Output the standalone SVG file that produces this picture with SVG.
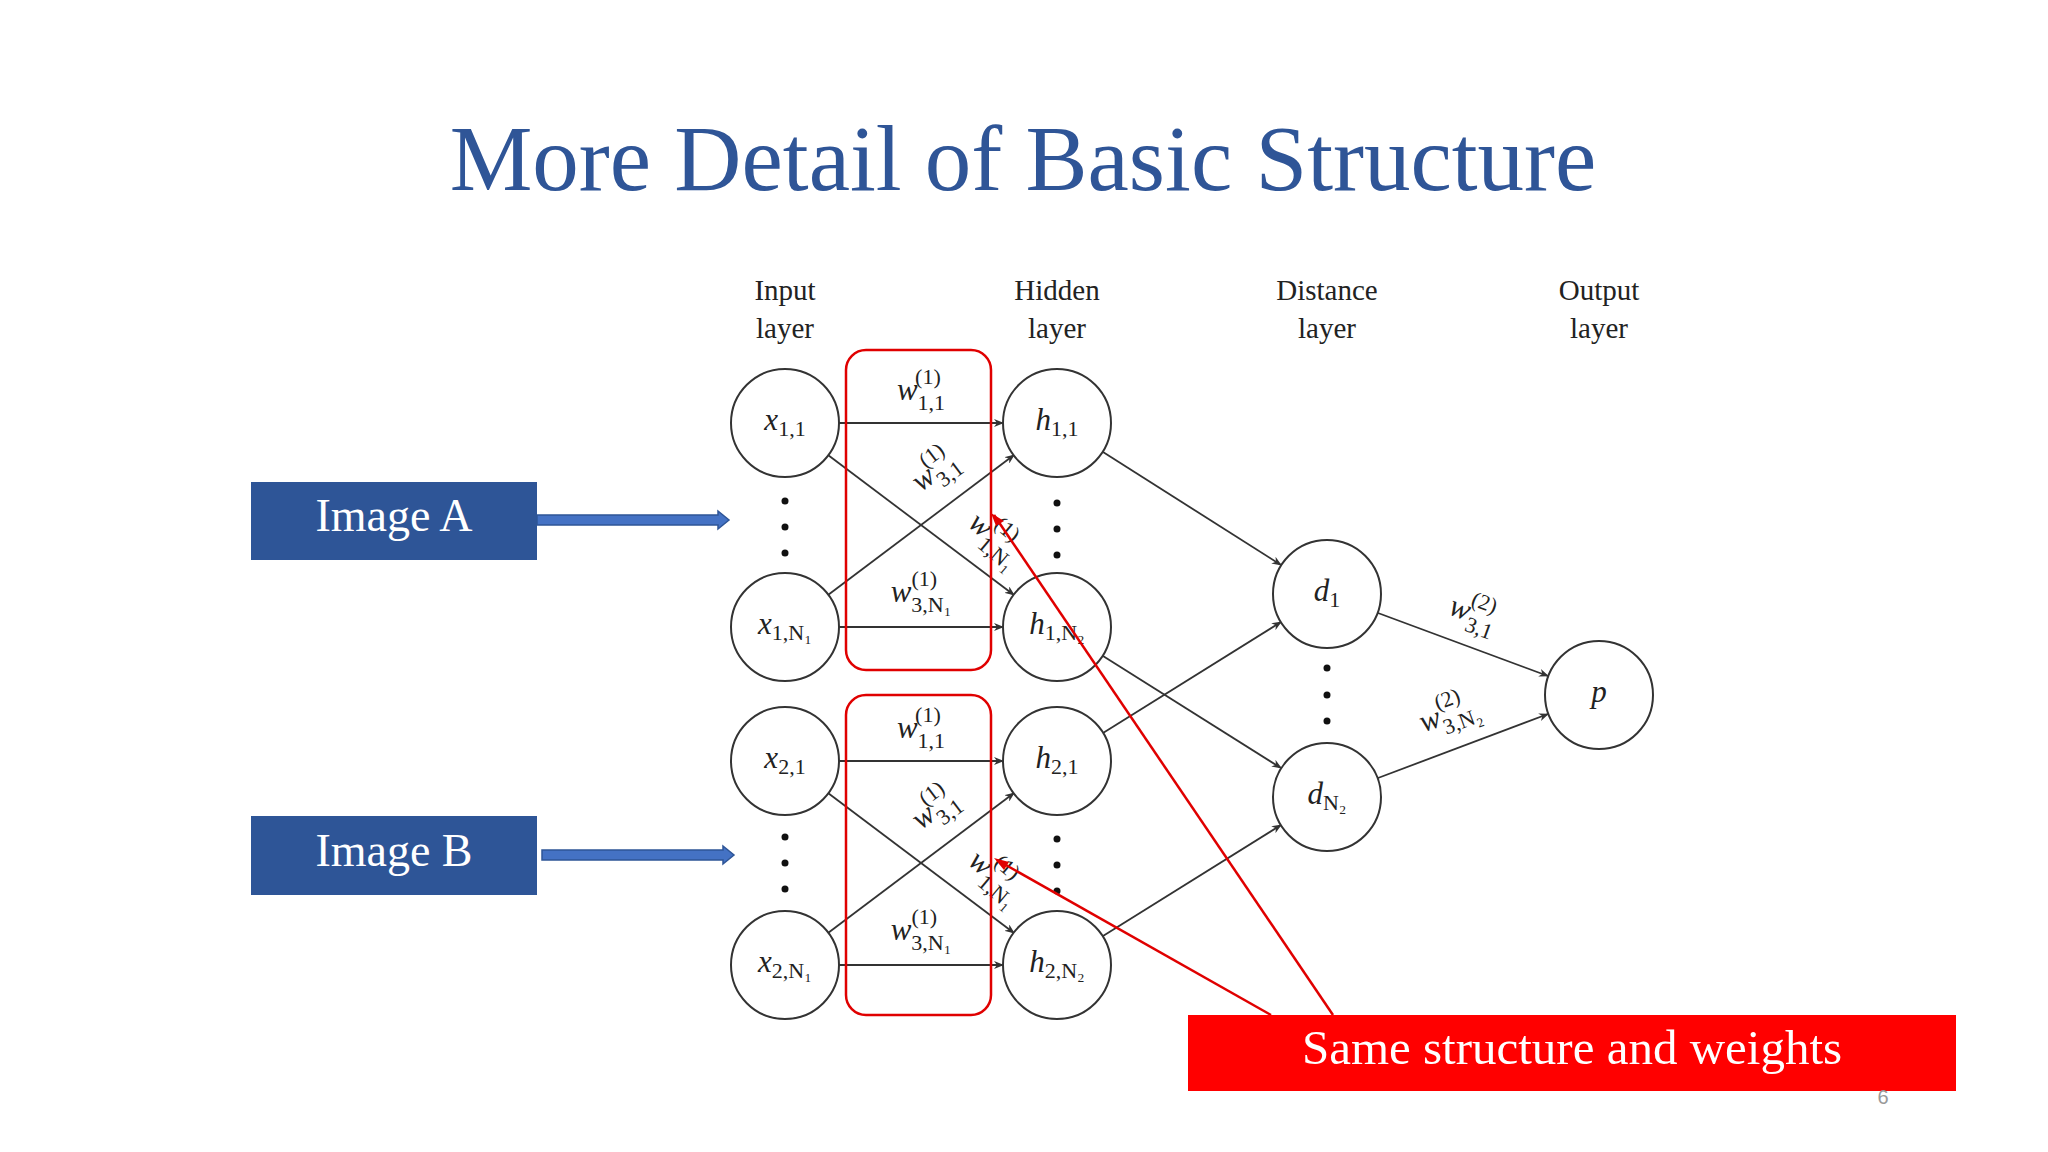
<svg xmlns="http://www.w3.org/2000/svg" width="2048" height="1152" viewBox="0 0 2048 1152">
<style>
.n{fill:#fff;stroke:#333;stroke-width:2}
.m{font-family:"Liberation Serif",serif;font-style:italic;font-size:31px;fill:#222;text-anchor:middle}
.l{font-family:"Liberation Serif",serif;font-size:29px;fill:#222;text-anchor:middle}
.e{stroke:#333;stroke-width:1.8;fill:none;marker-end:url(#ah)}
.s{font-size:22px;font-style:normal}
.rb{fill:none;stroke:#e00000;stroke-width:2.5}
.dot{fill:#111}
</style>
<defs>
<marker id="ah" markerWidth="10" markerHeight="8" refX="9" refY="4" orient="auto" markerUnits="userSpaceOnUse"><path d="M0,0 L10,4 L0,8 L3,4z" fill="#333"/></marker>
</defs>
<rect width="2048" height="1152" fill="#fff"/>
<text x="1023" y="190" font-family="Liberation Serif,serif" font-size="93" fill="#2F5597" text-anchor="middle">More Detail of Basic Structure</text>
<g id="labels">
<text class="l" x="785" y="300">Input</text><text class="l" x="785" y="338">layer</text>
<text class="l" x="1057" y="300">Hidden</text><text class="l" x="1057" y="338">layer</text>
<text class="l" x="1327" y="300">Distance</text><text class="l" x="1327" y="338">layer</text>
<text class="l" x="1599" y="300">Output</text><text class="l" x="1599" y="338">layer</text>
</g>
<g id="connectors">
<line class="e" x1="839" y1="423" x2="1003" y2="423"/>
<line class="e" x1="839" y1="627" x2="1003" y2="627"/>
<line class="e" x1="839" y1="761" x2="1003" y2="761"/>
<line class="e" x1="839" y1="965" x2="1003" y2="965"/>
<line class="e" x1="828" y1="455" x2="1014" y2="595"/>
<line class="e" x1="828" y1="595" x2="1014" y2="455"/>
<line class="e" x1="828" y1="793" x2="1014" y2="933"/>
<line class="e" x1="828" y1="933" x2="1014" y2="793"/>
<line class="e" x1="1103" y1="452" x2="1281" y2="565"/>
<line class="e" x1="1103" y1="656" x2="1281" y2="768"/>
<line class="e" x1="1103" y1="733" x2="1281" y2="622"/>
<line class="e" x1="1103" y1="936" x2="1281" y2="825"/>
<line class="e" x1="1378" y1="613" x2="1548" y2="676"/>
<line class="e" x1="1378" y1="778" x2="1548" y2="714"/>
</g>
<g id="weights">
<text class="m" x="921" y="400">w<tspan class="s" dy="10">1,1</tspan><tspan class="s" dx="-30" dy="-26">(1)</tspan></text>
<text class="m" x="921" y="602">w<tspan class="s" dy="10">3,N₁</tspan><tspan class="s" dx="-40" dy="-26">(1)</tspan></text>
<text class="m" x="921" y="738">w<tspan class="s" dy="10">1,1</tspan><tspan class="s" dx="-30" dy="-26">(1)</tspan></text>
<text class="m" x="921" y="940">w<tspan class="s" dy="10">3,N₁</tspan><tspan class="s" dx="-40" dy="-26">(1)</tspan></text>
<text class="m" transform="translate(940,478) rotate(-37)">w<tspan class="s" dy="10">3,1</tspan><tspan class="s" dx="-30" dy="-26">(1)</tspan></text>
<text class="m" transform="translate(940,816) rotate(-37)">w<tspan class="s" dy="10">3,1</tspan><tspan class="s" dx="-30" dy="-26">(1)</tspan></text>
<text class="m" transform="translate(990,545) rotate(40)">w<tspan class="s" dy="10">1,N₁</tspan><tspan class="s" dx="-40" dy="-26">(1)</tspan></text>
<text class="m" transform="translate(990,883) rotate(40)">w<tspan class="s" dy="10">1,N₁</tspan><tspan class="s" dx="-40" dy="-26">(1)</tspan></text>
<text class="m" transform="translate(1470,622) rotate(20)">w<tspan class="s" dy="10">3,1</tspan><tspan class="s" dx="-30" dy="-26">(2)</tspan></text>
<text class="m" transform="translate(1452,722) rotate(-20)">w<tspan class="s" dy="10">3,N₂</tspan><tspan class="s" dx="-40" dy="-26">(2)</tspan></text>
</g>
<g id="x11"><circle class="n" cx="785" cy="423" r="54"/><text class="m" x="785" y="430">x<tspan class="s" dy="6">1,1</tspan></text></g>
<g id="x1N"><circle class="n" cx="785" cy="627" r="54"/><text class="m" x="785" y="634">x<tspan class="s" dy="6">1,N₁</tspan></text></g>
<g id="x21"><circle class="n" cx="785" cy="761" r="54"/><text class="m" x="785" y="768">x<tspan class="s" dy="6">2,1</tspan></text></g>
<g id="x2N"><circle class="n" cx="785" cy="965" r="54"/><text class="m" x="785" y="972">x<tspan class="s" dy="6">2,N₁</tspan></text></g>
<g id="h11"><circle class="n" cx="1057" cy="423" r="54"/><text class="m" x="1057" y="430">h<tspan class="s" dy="6">1,1</tspan></text></g>
<g id="h1N"><circle class="n" cx="1057" cy="627" r="54"/><text class="m" x="1057" y="634">h<tspan class="s" dy="6">1,N₂</tspan></text></g>
<g id="h21"><circle class="n" cx="1057" cy="761" r="54"/><text class="m" x="1057" y="768">h<tspan class="s" dy="6">2,1</tspan></text></g>
<g id="h2N"><circle class="n" cx="1057" cy="965" r="54"/><text class="m" x="1057" y="972">h<tspan class="s" dy="6">2,N₂</tspan></text></g>
<g id="d1"><circle class="n" cx="1327" cy="594" r="54"/><text class="m" x="1327" y="601">d<tspan class="s" dy="6">1</tspan></text></g>
<g id="dN"><circle class="n" cx="1327" cy="797" r="54"/><text class="m" x="1327" y="804">d<tspan class="s" dy="6">N₂</tspan></text></g>
<g id="p"><circle class="n" cx="1599" cy="695" r="54"/><text class="m" x="1599" y="702">p</text></g>
<g id="dots">
<circle class="dot" cx="785" cy="501" r="3.5"/><circle class="dot" cx="785" cy="527" r="3.5"/><circle class="dot" cx="785" cy="553" r="3.5"/>
<circle class="dot" cx="1057" cy="503" r="3.5"/><circle class="dot" cx="1057" cy="529" r="3.5"/><circle class="dot" cx="1057" cy="555" r="3.5"/>
<circle class="dot" cx="785" cy="837" r="3.5"/><circle class="dot" cx="785" cy="863" r="3.5"/><circle class="dot" cx="785" cy="889" r="3.5"/>
<circle class="dot" cx="1057" cy="839" r="3.5"/><circle class="dot" cx="1057" cy="865" r="3.5"/><circle class="dot" cx="1057" cy="891" r="3.5"/>
<circle class="dot" cx="1327" cy="668" r="3.5"/><circle class="dot" cx="1327" cy="695" r="3.5"/><circle class="dot" cx="1327" cy="721" r="3.5"/>
</g>
<g id="redboxes">
<rect class="rb" x="846" y="350" width="145" height="320" rx="20"/>
<rect class="rb" x="846" y="695" width="145" height="320" rx="20"/>
</g>
<g id="imageA">
<rect x="251" y="482" width="286" height="78" fill="#2E5597"/>
<text x="394" y="531" font-family="Liberation Serif,serif" font-size="46" fill="#fff" text-anchor="middle">Image A</text>
<path d="M537,515 H718 V511 L729,520 L718,529 V525 H537z" fill="#4472C4" stroke="#2E5597" stroke-width="1.5"/>
</g>
<g id="imageB">
<rect x="251" y="816" width="286" height="79" fill="#2E5597"/>
<text x="394" y="866" font-family="Liberation Serif,serif" font-size="46" fill="#fff" text-anchor="middle">Image B</text>
<path d="M542,850 H723 V846 L734,855 L723,864 V860 H542z" fill="#4472C4" stroke="#2E5597" stroke-width="1.5"/>
</g>
<g id="same">
<line x1="1333" y1="1015" x2="994" y2="515" stroke="#e00000" stroke-width="2.5"/>
<path d="M991,513 L1004,521 L996,526z" fill="#e00000"/>
<line x1="1271" y1="1015" x2="997" y2="860" stroke="#e00000" stroke-width="2.5"/>
<path d="M994,858 L1009,862 L1004,870z" fill="#e00000"/>
<rect x="1188" y="1015" width="768" height="76" fill="#ff0000"/>
<text x="1572" y="1064" font-family="Liberation Serif,serif" font-size="49" fill="#fff" text-anchor="middle">Same structure and weights</text>
</g>
<text x="1883" y="1104" font-family="Liberation Sans,sans-serif" font-size="20" fill="#999" text-anchor="middle">6</text>
</svg>
